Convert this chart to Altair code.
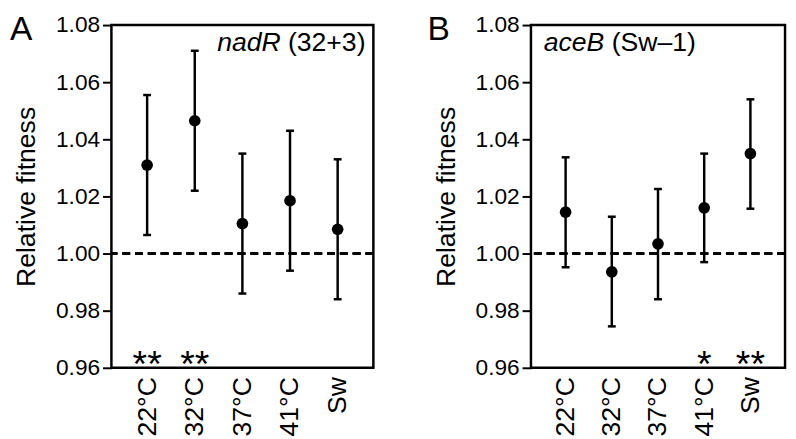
import altair as alt
import pandas as pd

categories = ["22°C", "32°C", "37°C", "41°C", "Sw"]

a_mean = [1.031, 1.0465, 1.0105, 1.0185, 1.0085]
a_low = [1.0065, 1.022, 0.986, 0.994, 0.984]
a_high = [1.0555, 1.071, 1.035, 1.043, 1.033]
a_stars = ["**", "**", "", "", ""]

b_mean = [1.0145, 0.9936, 1.0034, 1.016, 1.035]
b_low = [0.9952, 0.9745, 0.984, 0.997, 1.0157]
b_high = [1.0337, 1.0129, 1.0226, 1.035, 1.054]
b_stars = ["", "", "", "*", "**"]

y_ticks = [0.96, 0.98, 1.00, 1.02, 1.04, 1.06, 1.08]

FONT = "Liberation Sans"
H = 348


def panel(mean, low, high, stars, letter, letter_x, gene_it, gene_rest, width, right_side):
    df = pd.DataFrame({"cond": categories, "mean": mean, "low": low,
                       "high": high, "star": stars})
    base = alt.Chart(df)
    x = alt.X("cond:N", sort=categories,
              scale=alt.Scale(type="point", padding=0.75),
              axis=alt.Axis(title=None, labelAngle=270, ticks=False, domain=False,
                            labelPadding=9, labelFontSize=27, labelFont=FONT,
                            labelColor="black"))
    y = alt.Y("mean:Q",
              scale=alt.Scale(domain=[0.96, 1.08], nice=False, zero=False),
              axis=alt.Axis(values=y_ticks, format=".2f", title="Relative fitness",
                            grid=False, domain=False, tickSize=9, tickWidth=2,
                            tickColor="black", labelPadding=3, labelFontSize=23,
                            labelFont=FONT, labelColor="black",
                            titleFont=FONT, titleFontSize=27, titleFontWeight="normal",
                            titleColor="black", titlePadding=15))
    dash = base.mark_rule(strokeDash=[8, 5], strokeWidth=2, color="black").encode(
        y=alt.datum(1.0))
    bars = base.mark_rule(strokeWidth=2.5, color="black").encode(
        x=x, y=alt.Y("low:Q"), y2="high:Q")
    cap_lo = base.mark_tick(size=8, thickness=2.5, color="black", opacity=1,
                            orient="horizontal").encode(x=x, y="low:Q")
    cap_hi = base.mark_tick(size=8, thickness=2.5, color="black", opacity=1,
                            orient="horizontal").encode(x=x, y="high:Q")
    pts = base.mark_circle(size=140, color="black", opacity=1).encode(x=x, y=y)
    star = base.mark_text(fontSize=38, font=FONT, baseline="alphabetic", dy=9,
                          color="black").encode(x=x, y=alt.datum(0.96), text="star:N")
    lab_df = pd.DataFrame({"t": [letter], "g1": [gene_it], "g2": [gene_rest]})
    lab = alt.Chart(lab_df).mark_text(fontSize=34, font=FONT, align="left",
                                      baseline="middle", color="black").encode(
        x=alt.value(letter_x), y=alt.value(5), text="t:N")
    gy = 26
    if right_side:
        g2 = alt.Chart(lab_df).mark_text(fontSize=27, font=FONT, align="right",
                                         baseline="alphabetic", color="black").encode(
            x=alt.value(width - 8), y=alt.value(gy), text="g2:N")
        g1 = alt.Chart(lab_df).mark_text(fontSize=27, font=FONT, align="right",
                                         fontStyle="italic", baseline="alphabetic",
                                         color="black").encode(
            x=alt.value(width - 8 - 86), y=alt.value(gy), text="g1:N")
    else:
        g1 = alt.Chart(lab_df).mark_text(fontSize=27, font=FONT, align="left",
                                         fontStyle="italic", baseline="alphabetic",
                                         color="black").encode(
            x=alt.value(13), y=alt.value(gy), text="g1:N")
        g2 = alt.Chart(lab_df).mark_text(fontSize=27, font=FONT, align="left",
                                         baseline="alphabetic", color="black").encode(
            x=alt.value(13 + 69), y=alt.value(gy), text="g2:N")
    return alt.layer(dash, bars, cap_lo, cap_hi, pts, star, lab, g1, g2).properties(
        width=width, height=H)


pa = panel(a_mean, a_low, a_high, a_stars, "A", -103, "nadR", "(32+3)", 266, True)
pb = panel(b_mean, b_low, b_high, b_stars, "B", -105, "aceB", "(Sw\u20131)", 258, False)

chart = alt.hconcat(pa, pb, spacing=50).properties(
    padding={"left": 0, "top": 0, "right": 0, "bottom": 0}
).configure_view(stroke="black", strokeWidth=2.5)

chart.save("out.html", embed_options={"renderer": "svg", "actions": False})
